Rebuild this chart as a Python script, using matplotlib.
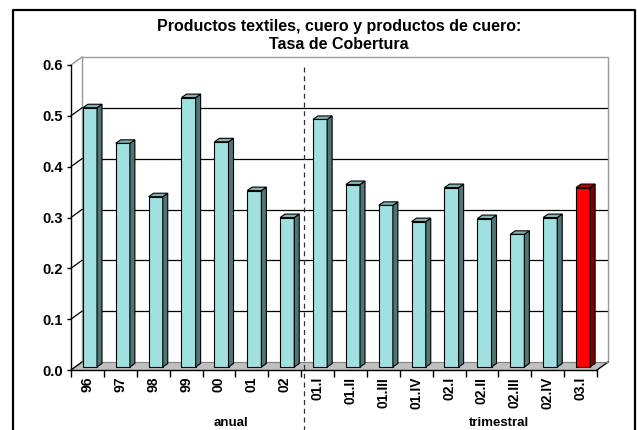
import matplotlib
matplotlib.use("Agg")
import matplotlib.pyplot as plt
from matplotlib.patches import Polygon
from matplotlib.lines import Line2D
from matplotlib.transforms import offset_copy, IdentityTransform

# datos
anual_labels = ['96', '97', '98', '99', '00', '01', '02']
anual_values = [0.51, 0.44, 0.335, 0.53, 0.443, 0.347, 0.294]
trim_labels = ['01.I', '01.II', '01.III', '01.IV', '02.I', '02.II', '02.III', '02.IV', '03.I']
trim_values = [0.487, 0.359, 0.318, 0.286, 0.353, 0.292, 0.261, 0.294, 0.353]
highlight = '03.I'
yticks = [0.0, 0.1, 0.2, 0.3, 0.4, 0.5, 0.6]

labels = anual_labels + trim_labels
values = anual_values + trim_values
n = len(labels)

plt.rcParams['font.family'] = ['Liberation Sans', 'DejaVu Sans']
plt.rcParams['font.weight'] = 'bold'

W, H = 637, 430
fig = plt.figure(figsize=(W / 100, H / 100), dpi=100)

# plano frontal de la caja 3d
ax = fig.add_axes([71 / W, (H - 370) / H, (597 - 71) / W, (370 - 65) / H])
ax.patch.set_visible(False)
x0, x1 = -0.5, n - 0.5
ax.set_xlim(x0, x1)
ax.set_ylim(0, 0.6)
ax.set_autoscale_on(False)

# desplazamientos de profundidad (px)
t_back = offset_copy(ax.transData, fig, x=11, y=8, units='dots')
t_bar = offset_copy(ax.transData, fig, x=2.5, y=3, units='dots')
t_bar_back = offset_copy(ax.transData, fig, x=7.5, y=6.5, units='dots')
ident = IdentityTransform()


def link(tr_a, tr_b, pa, **kw):
    a = tr_a.transform(pa)
    b = tr_b.transform(pa)
    ax.add_line(Line2D([a[0], b[0]], [a[1], b[1]], transform=ident, clip_on=False, **kw))


def poly(points, **kw):
    ax.add_patch(Polygon(points, closed=True, transform=ident, clip_on=False, **kw))


# pared del fondo
for y in yticks[1:-1]:
    ax.plot([x0, x1], [y, y], transform=t_back, color='black', lw=0.9, zorder=1, clip_on=False)
ax.plot([x0, x1, x1], [0.6, 0.6, 0.0], transform=t_back, color='#999999', lw=1, zorder=1, clip_on=False)
ax.plot([x0, x0], [0.0, 0.6], transform=t_back, color='#999999', lw=1, zorder=1, clip_on=False)

# pared lateral
for y in yticks[1:-1]:
    link(ax.transData, t_back, (x0, y), color='black', lw=0.9, zorder=1)
link(ax.transData, t_back, (x0, 0.6), color='#999999', lw=1, zorder=1)

# piso
f = [ax.transData.transform((x0, 0)), ax.transData.transform((x1, 0)),
     t_back.transform((x1, 0)), t_back.transform((x0, 0))]
poly(f, facecolor='#c0c0c0', edgecolor='none', zorder=1.5)
link(ax.transData, t_back, (x1, 0), color='black', lw=1, zorder=1.6)
link(ax.transData, t_back, (x0, 0), color='black', lw=1, zorder=1.6)
ax.plot([x0, x1], [0, 0], transform=t_back, color='#808080', lw=0.8, zorder=1.6, clip_on=False)

# barras
w = 0.43
faces = ['#ff0000' if l == highlight else '#a0e0e0' for l in labels]
tops = ['#c00000' if l == highlight else '#7fb3b3' for l in labels]
sides = ['#800000' if l == highlight else '#4f7575' for l in labels]
xs = list(range(n))
ax.bar(xs, values, width=w, color=faces, edgecolor='black', linewidth=0.8,
       transform=t_bar, zorder=3, clip_on=False)
for x, v, tc, sc in zip(xs, values, tops, sides):
    l, r = x - w / 2, x + w / 2
    poly([t_bar.transform((r, 0)), t_bar_back.transform((r, 0)),
          t_bar_back.transform((r, v)), t_bar.transform((r, v))],
         facecolor=sc, edgecolor='black', lw=0.8, zorder=3)
    poly([t_bar.transform((l, v)), t_bar.transform((r, v)),
          t_bar_back.transform((r, v)), t_bar_back.transform((l, v))],
         facecolor=tc, edgecolor='black', lw=0.8, zorder=3)

# separador anual / trimestral
ax.plot([6.5, 6.5], [0.59, -0.13], transform=t_bar, color='#303030', lw=0.9,
        ls=(0, (4, 3)), clip_on=False, zorder=4)

# ejes
ax.spines['top'].set_visible(False)
ax.spines['right'].set_visible(False)
ax.spines['left'].set_linewidth(1)
ax.spines['bottom'].set_linewidth(1)
ax.spines['bottom'].set_zorder(2)
ax.set_yticks(yticks, [f'{v:.1f}' for v in yticks], fontsize=10.5, fontweight='bold')
ax.tick_params(axis='y', length=3, width=1, pad=3)
ax.set_xticks(xs, labels, rotation=90, fontsize=10, fontweight='bold')
ax.set_xticks([i - 0.5 for i in range(n + 1)], minor=True)
ax.tick_params(axis='x', which='major', length=0, pad=5)
ax.tick_params(axis='x', which='minor', length=5, width=1)
ax.set_xlim(x0, x1)
ax.set_ylim(0, 0.6)

fig.text(231 / W, 1 - 423 / H, 'anual', ha='center', va='center', fontsize=9.5, fontweight='bold')
fig.text(499 / W, 1 - 423 / H, 'trimestral', ha='center', va='center', fontsize=9.5, fontweight='bold')

fig.text(339 / W, 1 - 35.5 / H, 'Productos textiles, cuero y productos de cuero:\nTasa de Cobertura',
         ha='center', va='center', fontsize=11.5, fontweight='bold', linespacing=1.25)

# marco
fig.add_artist(Line2D([13 / W, 13 / W, 635 / W, 635 / W], [0, 1 - 10 / H, 1 - 10 / H, 0],
                      transform=fig.transFigure, color='black', lw=1.6))

fig.savefig('out.png', dpi=100)
